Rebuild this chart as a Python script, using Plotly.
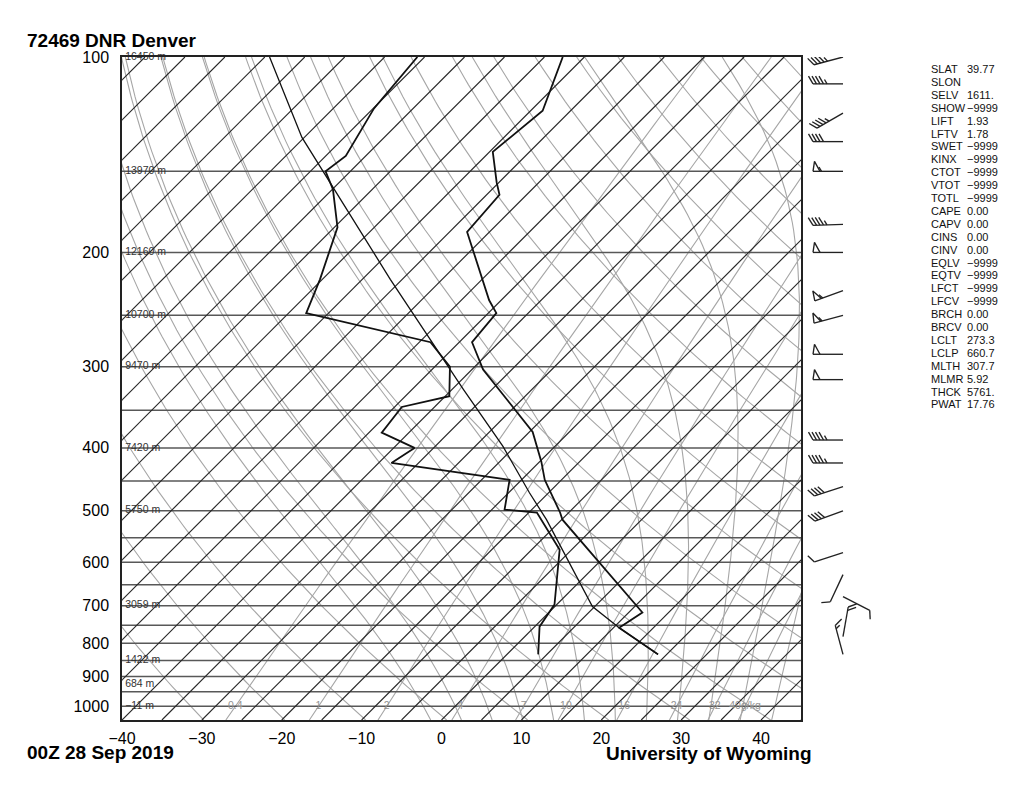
import numpy as np
import plotly.graph_objects as go

# ---- sounding values (hPa, deg C) ----
temp_p = [832, 757, 717, 516, 503, 448, 420, 378, 303, 275, 248, 237, 186, 163, 156, 140, 121, 100]
temp_t = [18.9, 10.7, 11.7, -9.9, -11.1, -17.1, -19.8, -24.6, -38.6, -43.4, -44.0, -46.5,
          -57.8, -58.4, -60.3, -64.6, -63.5, -67.7]

dew_p = [832, 754, 697, 574, 503, 498, 448, 422, 400, 379, 346, 333, 300, 275, 248, 220,
         183, 160, 150, 142, 120, 100]
dew_t = [3.9, 0.6, -0.3, -6.5, -14.0, -18.4, -21.5, -38.4, -37.4, -43.4, -44.1, -39.5,
         -43.1, -48.6, -67.8, -70.3, -74.6, -79.9, -83.1, -82.5, -84.9, -85.9]

parcel_p = [832, 757, 702, 516, 469, 398, 325, 220, 133, 100]
parcel_t = [18.9, 10.7, 4.7, -11.9, -17.4, -26.5, -38.6, -61.5, -90.3, -104.4]

# winds (hPa, direction deg, speed kt)
wind_p = [100, 110, 122, 135, 150, 181, 200, 229, 250, 287, 314, 389, 422, 459, 500,
          580, 627, 678, 781, 832]
wind_dir = [255, 270, 240, 270, 270, 268, 270, 250, 255, 270, 270, 270, 270, 252, 250,
            252, 205, 117, 10, 345]
wind_spd = [45, 45, 45, 40, 55, 45, 50, 55, 55, 50, 50, 45, 45, 40, 40, 10, 10, 10, 20, 15]

# height labels on isobars
hgt_p = [100, 150, 200, 250, 300, 400, 500, 700, 850, 925, 1000]
hgt_lbl = ["16450 m", "13970 m", "12160 m", "10700 m", "9470 m", "7420 m", "5750 m",
           "3059 m", "1422 m", "684 m", "\u221211 m"]

mix_w = [0.4, 1, 2, 4, 7, 10, 16, 24, 32, 40]
mix_lbl = ["0.4", "1", "2", "4", "7", "10", "16", "24", "32", "40g/kg"]

idx_names = ["SLAT", "SLON", "SELV", "SHOW", "LIFT", "LFTV", "SWET", "KINX", "CTOT", "VTOT",
             "TOTL", "CAPE", "CAPV", "CINS", "CINV", "EQLV", "EQTV", "LFCT", "LFCV", "BRCH",
             "BRCV", "LCLT", "LCLP", "MLTH", "MLMR", "THCK", "PWAT"]
idx_vals = ["39.77", "", "1611.", "\u22129999", "1.93", "1.78", "\u22129999", "\u22129999",
            "\u22129999", "\u22129999", "\u22129999", "0.00", "0.00", "0.00", "0.00",
            "\u22129999", "\u22129999", "\u22129999", "\u22129999", "0.00", "0.00", "273.3",
            "660.7", "307.7", "5.92", "5761.", "17.76"]

FONT = "Liberation Sans, Arial, sans-serif"
P_BOT, P_TOP = 1050.0, 100.0
PX_DEC = 663 / np.log10(P_BOT / P_TOP)   # pixels per decade of pressure
SKEW = PX_DEC / 8.0                       # 8 px per deg C -> 45 degree isotherms


def sx(t, p):
    return np.asarray(t, float) + SKEW * np.log10(P_BOT / np.asarray(p, float))


def join(lines):
    xs, ys = [], []
    for x, y in lines:
        xs += list(x) + [None]
        ys += list(y) + [None]
    return xs, ys


pp = np.logspace(np.log10(P_BOT), np.log10(P_TOP), 120)

# dry adiabats
dry = []
for th in range(230, 470, 10):
    t = th * (pp / 1000.0) ** 0.2857 - 273.15
    dry.append((sx(t, pp), pp))


# moist adiabats
def dtdp(t, p):
    es = 6.112 * np.exp(17.67 * (t - 273.15) / (t - 29.65))
    rs = 0.622 * es / (p - es)
    lv, rd, cp = 2.501e6, 287.04, 1005.7
    return (rd * t + lv * rs) / (cp + lv * lv * rs * 0.622 / (rd * t * t)) / p


def moist(t0):
    out = {}
    for step, stop in ((-5.0, P_TOP), (5.0, P_BOT)):
        t, p = t0 + 273.15, 1000.0
        out[p] = t
        while (p + step >= stop - 1e-6) if step < 0 else (p + step <= stop + 1e-6):
            k1 = dtdp(t, p)
            k2 = dtdp(t + 0.5 * step * k1, p + 0.5 * step)
            k3 = dtdp(t + 0.5 * step * k2, p + 0.5 * step)
            k4 = dtdp(t + step * k3, p + step)
            t += step * (k1 + 2 * k2 + 2 * k3 + k4) / 6
            p += step
            out[p] = t
    ps = np.array(sorted(out))
    ts = np.array([out[k] for k in ps]) - 273.15
    return sx(ts, ps), ps


wet = [moist(t0) for t0 in range(-4, 44, 4)]


# mixing ratio lines
def td_of(w, p):
    e = p * w / (622.0 + w)
    a = np.log(e / 6.112)
    return 243.5 * a / (17.67 - a)


mix = [(sx(td_of(w, pp), pp), pp) for w in mix_w]

isot = [(sx([t, t], [P_BOT, P_TOP]), [P_BOT, P_TOP]) for t in range(-160, 50, 5)]
isob = [([-40, 45], [p, p]) for p in range(150, 1050, 50)]

fig = go.Figure()
GRAY = "#a6a6a6"
for lines, col, w in ((dry, GRAY, 1.1), (wet, GRAY, 1.1), (mix, GRAY, 1.1),
                      (isob, "#585858", 1.5), (isot, "#262626", 1.15)):
    xs, ys = join(lines)
    fig.add_trace(go.Scatter(x=xs, y=ys, mode="lines", line=dict(color=col, width=w),
                             hoverinfo="skip", showlegend=False))

for p_, t_, w in ((parcel_p, parcel_t, 1.3), (temp_p, temp_t, 1.8), (dew_p, dew_t, 1.8)):
    fig.add_trace(go.Scatter(x=sx(t_, p_), y=p_, mode="lines",
                             line=dict(color="#111111", width=w), showlegend=False))

# height labels
fig.add_trace(go.Scatter(x=[-39.6] * len(hgt_p), y=hgt_p, mode="text", text=hgt_lbl,
                         textposition="middle right", cliponaxis=False,
                         textfont=dict(family=FONT, size=10.5, color="#333333"),
                         showlegend=False, hoverinfo="skip"))
# mixing ratio labels
fig.add_trace(go.Scatter(x=[float(sx(td_of(w, 1000.0), 1000.0)) for w in mix_w],
                         y=[1000] * len(mix_w), mode="text", text=mix_lbl,
                         textposition="middle center",
                         textfont=dict(family=FONT, size=10.5, color="#939393"),
                         showlegend=False, hoverinfo="skip"))

# wind barbs, drawn in pixel units on a side axis that shares the pressure axis
BASE_X, STAFF = 843.0, 30.0
bx, by = [], []


def add_pts(pts, p0):
    for dx, dy in pts:
        bx.append(BASE_X + dx)
        by.append(p0 * 10 ** (dy / PX_DEC))
    bx.append(None)
    by.append(None)


for p0, d, s in zip(wind_p, wind_dir, wind_spd):
    r = np.radians(d)
    u = np.array([np.sin(r), -np.cos(r)])
    n = np.array([-u[1], u[0]])
    tip = STAFF * u
    add_pts([(0, 0), tuple(tip)], p0)
    rem = int(round(s / 5.0)) * 5
    pos = 0.0
    while rem >= 50:
        a = tip - pos * u
        b = tip - (pos + 7) * u
        c = a + 10 * n - 1.5 * u
        add_pts([tuple(a), tuple(c), tuple(b)], p0)
        pos += 8.5
        rem -= 50
    while rem >= 10:
        a = tip - pos * u
        add_pts([tuple(a), tuple(a + 9 * (0.87 * n + 0.5 * u))], p0)
        pos += 3.5
        rem -= 10
    if rem >= 5:
        if pos == 0:
            pos = 3.5
        a = tip - pos * u
        add_pts([tuple(a), tuple(a + 5 * (0.87 * n + 0.5 * u))], p0)

fig.add_trace(go.Scatter(x=bx, y=by, xaxis="x2", yaxis="y", mode="lines",
                         line=dict(color="#222222", width=1.35), cliponaxis=False,
                         showlegend=False, hoverinfo="skip"))

# the page adds an 8 px body margin, so the figure margins are 8 px smaller
W_PAPER = 1024 - 114 - 10
ann = []


def px2paper(x, y):
    # x, y are page pixels; the plot area starts at page (122, 57)
    return (x - 122) / W_PAPER, 1 - (y - 57) / 663


for i, (nm, vl) in enumerate(zip(idx_names, idx_vals)):
    yy = 69 + i * 12.9
    for xp, txt in ((929, nm), (965, vl)):
        if txt:
            px_, py_ = px2paper(xp, yy)
            ann.append(dict(x=px_, y=py_, xref="paper", yref="paper", text=txt,
                            showarrow=False, xanchor="left", yanchor="middle",
                            font=dict(family=FONT, size=11, color="#111")))

for txt, xp, yp, anc in (("72469 DNR Denver", 25, 40, "left"),
                         ("00Z 28 Sep 2019", 25, 752, "left"),
                         ("University of Wyoming", 814, 753, "right")):
    px_, py_ = px2paper(xp, yp)
    ann.append(dict(x=px_, y=py_, xref="paper", yref="paper", text="<b>%s</b>" % txt,
                    showarrow=False, xanchor=anc, yanchor="middle",
                    font=dict(family=FONT, size=19, color="#000")))

fig.update_layout(
    width=1024, height=792,
    margin=dict(l=114, r=10, t=49, b=80),
    paper_bgcolor="white", plot_bgcolor="white",
    showlegend=False,
    font=dict(family=FONT, size=16, color="#000"),
    xaxis=dict(domain=[0, 679 / W_PAPER], range=[-40, 45],
               tickvals=list(range(-40, 41, 10)), ticks="", ticklabelstandoff=3,
               showgrid=False, zeroline=False, showline=True, mirror=True,
               linecolor="#222", linewidth=1.5, tickfont=dict(size=16)),
    yaxis=dict(type="log", range=[np.log10(P_BOT), np.log10(P_TOP)],
               tickvals=list(range(100, 1001, 100)),
               ticktext=[str(v) for v in range(100, 1001, 100)],
               ticks="", ticklabelstandoff=8, showgrid=False, zeroline=False,
               showline=True, mirror=True, linecolor="#222", linewidth=1.5,
               tickfont=dict(size=16)),
    xaxis2=dict(domain=[684 / W_PAPER, 783 / W_PAPER], range=[806, 905], anchor="y",
                visible=False, showgrid=False, zeroline=False),
    annotations=ann,
)

fig.write_html("out.html")
